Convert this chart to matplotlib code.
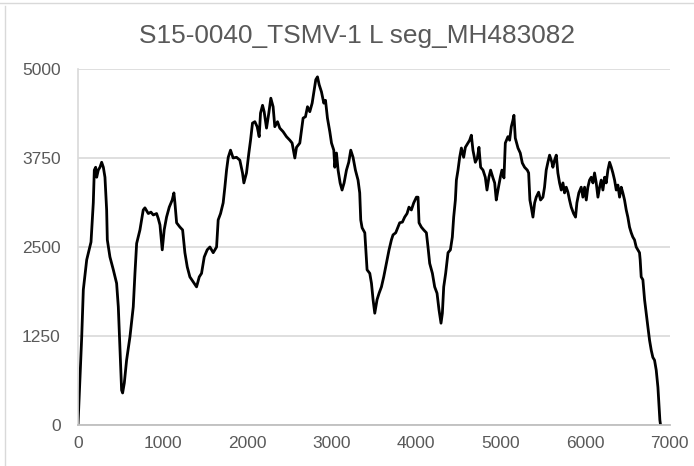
import matplotlib
matplotlib.use("Agg")
import matplotlib.pyplot as plt
from matplotlib.lines import Line2D

title = "S15-0040_TSMV-1 L seg_MH483082"
x_ticks = [0, 1000, 2000, 3000, 4000, 5000, 6000, 7000]
y_ticks = [0, 1250, 2500, 3750, 5000]

position = [0, 44, 63, 103, 154, 181, 193, 209, 221, 240, 260, 280, 300, 319, 339, 347, 378, 418, 457, 477,
            497, 516, 528, 548, 575, 615, 654, 674, 694, 733, 772, 792, 832, 863, 891, 930, 950, 970, 997, 1020,
            1048, 1080, 1115, 1135, 1147, 1167, 1206, 1238, 1265, 1293, 1324, 1364, 1403, 1435, 1462, 1494, 1529, 1561, 1600, 1640,
            1659, 1687, 1718, 1738, 1758, 1778, 1805, 1836, 1876, 1915, 1947, 1963, 1994, 2022, 2042, 2065, 2093, 2120, 2144, 2160,
            2184, 2203, 2231, 2258, 2282, 2309, 2329, 2361, 2388, 2427, 2467, 2507, 2534, 2566, 2586, 2625, 2664, 2692, 2716, 2743,
            2771, 2794, 2814, 2834, 2854, 2881, 2909, 2929, 2952, 2980, 3000, 3027, 3039, 3059, 3078, 3102, 3125, 3149, 3177, 3204,
            3228, 3255, 3283, 3314, 3334, 3346, 3362, 3394, 3421, 3453, 3473, 3492, 3512, 3539, 3563, 3591, 3618, 3650, 3681, 3709,
            3728, 3760, 3787, 3807, 3839, 3866, 3894, 3917, 3945, 3973, 4005, 4024, 4036, 4063, 4091, 4123, 4142, 4162, 4194, 4221,
            4249, 4272, 4296, 4312, 4328, 4351, 4379, 4407, 4430, 4446, 4466, 4478, 4497, 4517, 4537, 4564, 4584, 4615, 4635, 4655,
            4674, 4702, 4726, 4745, 4765, 4793, 4820, 4840, 4863, 4883, 4911, 4931, 4950, 4970, 4998, 5017, 5041, 5057, 5088, 5108,
            5128, 5147, 5159, 5175, 5207, 5234, 5258, 5285, 5317, 5333, 5348, 5364, 5384, 5404, 5423, 5451, 5474, 5502, 5521, 5541,
            5561, 5581, 5608, 5620, 5640, 5660, 5679, 5699, 5719, 5739, 5758, 5778, 5798, 5817, 5837, 5865, 5888, 5904, 5927, 5955,
            5975, 5995, 6015, 6034, 6054, 6074, 6094, 6113, 6133, 6153, 6173, 6192, 6212, 6232, 6251, 6271, 6291, 6311, 6330, 6350,
            6370, 6389, 6409, 6429, 6448, 6468, 6488, 6507, 6527, 6547, 6566, 6586, 6606, 6626, 6645, 6653, 6665, 6685, 6705, 6724,
            6744, 6764, 6784, 6803, 6823, 6843, 6863, 6874, 6886, 6894]

coverage = [0, 1240, 1900, 2320, 2570, 3120, 3580, 3620, 3480, 3580, 3620, 3690, 3620, 3480, 3020, 2600, 2360, 2180, 1990, 1660,
            1050, 490, 450, 590, 910, 1240, 1660, 2130, 2550, 2740, 3020, 3050, 2970, 2990, 2950, 2970, 2900, 2810, 2460, 2740,
            2920, 3060, 3160, 3260, 3120, 2840, 2780, 2740, 2420, 2220, 2080, 2010, 1940, 2080, 2130, 2360, 2460, 2500, 2420, 2500,
            2880, 2970, 3120, 3340, 3580, 3760, 3860, 3750, 3760, 3720, 3540, 3400, 3540, 3820, 4000, 4240, 4260, 4190, 4050, 4380,
            4490, 4400, 4170, 4380, 4590, 4470, 4190, 4260, 4170, 4120, 4050, 4000, 3960, 3750, 3900, 3960, 4310, 4330, 4470, 4400,
            4520, 4700, 4850, 4890, 4780, 4680, 4520, 4560, 4310, 4120, 3960, 3860, 3620, 3820, 3580, 3400, 3300, 3400, 3580, 3690,
            3860, 3760, 3580, 3440, 3260, 2880, 2770, 2700, 2180, 2130, 1990, 1760, 1570, 1760, 1850, 1940, 2080, 2270, 2460, 2600,
            2670, 2700, 2780, 2840, 2850, 2920, 2970, 3060, 3020, 3120, 3200, 3200, 2840, 2780, 2740, 2700, 2500, 2270, 2130, 1940,
            1850, 1620, 1430, 1570, 1940, 2130, 2420, 2460, 2640, 2920, 3160, 3440, 3580, 3760, 3890, 3760, 3900, 3960, 4000, 4070,
            3860, 3690, 3750, 3900, 3620, 3580, 3480, 3300, 3480, 3580, 3470, 3400, 3160, 3300, 3480, 3580, 3470, 3960, 4050, 4000,
            4190, 4280, 4350, 4030, 3890, 3820, 3680, 3620, 3580, 3540, 3160, 3060, 2920, 3120, 3200, 3270, 3160, 3200, 3340, 3580,
            3690, 3790, 3690, 3620, 3720, 3790, 3540, 3400, 3300, 3400, 3260, 3340, 3270, 3160, 3060, 2970, 2920, 3120, 3260, 3340,
            3200, 3340, 3160, 3340, 3440, 3480, 3400, 3540, 3400, 3200, 3340, 3440, 3300, 3480, 3400, 3580, 3690, 3620, 3540, 3440,
            3300, 3370, 3200, 3340, 3260, 3160, 3020, 2920, 2780, 2700, 2640, 2600, 2500, 2460, 2420, 2320, 2080, 2040, 1760, 1570,
            1380, 1190, 1050, 950, 910, 770, 530, 310, 70, 0]

plt.rcParams['font.family'] = ['Liberation Sans', 'DejaVu Sans']

fig = plt.figure(figsize=(6.94, 4.66), dpi=100)
ax = fig.add_axes([78 / 694, 1 - 425 / 466, (669.5 - 78) / 694, (425 - 69) / 466])

ax.plot(position, coverage, color='black', linewidth=2.0, solid_joinstyle='round')

ax.set_xlim(0, 7000)
ax.set_ylim(0, 5000)
ax.set_xticks(x_ticks)
ax.set_yticks(y_ticks)
ax.set_xticklabels([str(v) for v in x_ticks])
ax.set_yticklabels([str(v) for v in y_ticks])
ax.tick_params(axis='both', length=0, labelsize=12.5, colors='#595959')
ax.tick_params(axis='x', pad=8)
ax.tick_params(axis='y', pad=12.5)
ax.grid(axis='y', color='#d9d9d9', linewidth=1.2)
ax.set_axisbelow(True)
for s in ['top', 'right']:
    ax.spines[s].set_visible(False)
ax.spines['bottom'].set_color('#bfbfbf')
ax.spines['bottom'].set_linewidth(1.3)
ax.spines['left'].set_color('#d9d9d9')
ax.spines['left'].set_linewidth(1.2)

fig.text(357.5 / 694, 1 - 42.5 / 466, title, ha='center', va='baseline', fontsize=18.9, color='#595959')

fig.add_artist(Line2D([0, 1], [1 - 2.5 / 466, 1 - 2.5 / 466], transform=fig.transFigure, color='#d9d9d9', linewidth=1.0))
fig.add_artist(Line2D([4.5 / 694, 4.5 / 694], [0, 1 - 6 / 466], transform=fig.transFigure, color='#d9d9d9', linewidth=1.0))

fig.savefig('out.png', dpi=100)
